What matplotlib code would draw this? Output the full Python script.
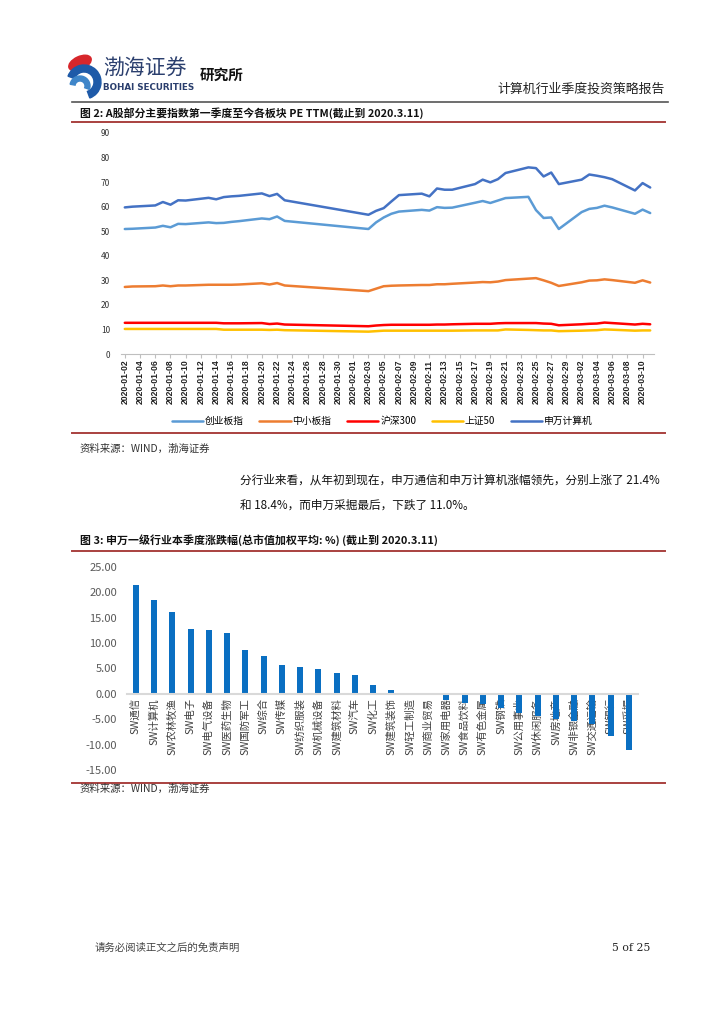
import numpy as np
import pandas as pd
import matplotlib
matplotlib.use('Agg')
import matplotlib.pyplot as plt
from matplotlib.patches import Ellipse, Wedge

plt.rcParams['font.family'] = ['Noto Sans CJK SC', 'DejaVu Sans']

# --- 图2 数据：各指数 PE TTM ---
dates = ['2020-01-02', '2020-01-03', '2020-01-06', '2020-01-07', '2020-01-08', '2020-01-09',
         '2020-01-10', '2020-01-13', '2020-01-14', '2020-01-15', '2020-01-16', '2020-01-17',
         '2020-01-20', '2020-01-21', '2020-01-22', '2020-01-23',
         '2020-02-03', '2020-02-04', '2020-02-05', '2020-02-06', '2020-02-07', '2020-02-10',
         '2020-02-11', '2020-02-12', '2020-02-13', '2020-02-14', '2020-02-17', '2020-02-18',
         '2020-02-19', '2020-02-20', '2020-02-21', '2020-02-24', '2020-02-25', '2020-02-26',
         '2020-02-27', '2020-02-28',
         '2020-03-02', '2020-03-03', '2020-03-04', '2020-03-05', '2020-03-06', '2020-03-09',
         '2020-03-10', '2020-03-11']
cyb = [50.9, 51.0, 51.5, 52.2, 51.6, 53.0, 52.9, 53.6, 53.3, 53.4, 53.8, 54.1, 55.2, 54.9, 56.0, 54.2,
       50.9, 53.6, 55.6, 57.1, 58.0, 58.7, 58.4, 59.8, 59.5, 59.6, 61.6, 62.3, 61.5, 62.5, 63.5, 64.0,
       58.6, 55.4, 55.6, 50.9,
       57.8, 59.1, 59.5, 60.4, 59.7, 57.1, 58.8, 57.4]
zxb = [27.3, 27.5, 27.6, 27.9, 27.6, 27.9, 27.9, 28.2, 28.2, 28.2, 28.2, 28.3, 28.8, 28.3, 28.9, 27.9,
       25.6, 26.6, 27.6, 27.8, 27.9, 28.1, 28.1, 28.4, 28.4, 28.6, 29.1, 29.3, 29.2, 29.5, 30.1, 30.7,
       30.9, 30.0, 29.0, 27.7,
       29.2, 29.9, 30.0, 30.4, 30.1, 29.0, 30.0, 29.1]
hs300 = [12.7, 12.7, 12.7, 12.7, 12.7, 12.7, 12.7, 12.7, 12.7, 12.5, 12.5, 12.5, 12.6, 12.2, 12.4, 12.0,
         11.3, 11.6, 11.8, 11.9, 11.9, 11.9, 11.9, 12.0, 12.0, 12.1, 12.3, 12.3, 12.3, 12.5, 12.6, 12.6,
         12.6, 12.4, 12.3, 11.7,
         12.1, 12.3, 12.4, 12.8, 12.6, 12.0, 12.3, 12.1]
sz50 = [10.2, 10.2, 10.2, 10.2, 10.2, 10.2, 10.2, 10.2, 10.2, 9.9, 9.9, 9.9, 9.9, 9.8, 9.9, 9.7,
        9.1, 9.3, 9.5, 9.5, 9.5, 9.5, 9.5, 9.5, 9.5, 9.5, 9.6, 9.6, 9.6, 9.6, 10.0, 9.8,
        9.7, 9.6, 9.6, 9.3,
        9.5, 9.6, 9.7, 10.0, 9.9, 9.5, 9.6, 9.6]
swjsj = [59.7, 60.0, 60.5, 61.9, 60.8, 62.6, 62.5, 63.6, 63.0, 63.9, 64.2, 64.4, 65.4, 64.3, 65.2, 62.6,
         56.7, 58.3, 59.4, 62.1, 64.7, 65.3, 64.2, 67.4, 66.9, 66.9, 69.2, 71.0, 69.9, 71.2, 73.7, 76.0,
         75.7, 72.3, 73.9, 69.2,
         71.0, 73.1, 72.6, 72.0, 71.2, 66.6, 69.6, 67.8]
series_names = ['创业板指', '中小板指', '沪深300', '上证50', '申万计算机']
series_colors = ['#5B9BD5', '#ED7D31', '#FF0000', '#FFC000', '#4472C4']

# --- 图3 数据：申万一级行业涨跌幅 ---
industries = ['SW通信', 'SW计算机', 'SW农林牧渔', 'SW电子', 'SW电气设备', 'SW医药生物', 'SW国防军工',
              'SW综合', 'SW传媒', 'SW纺织服装', 'SW机械设备', 'SW建筑材料', 'SW汽车', 'SW化工',
              'SW建筑装饰', 'SW轻工制造', 'SW商业贸易', 'SW家用电器', 'SW食品饮料', 'SW有色金属',
              'SW钢铁', 'SW公用事业', 'SW休闲服务', 'SW房地产', 'SW非银金融', 'SW交通运输',
              'SW银行', 'SW采掘']
changes = [21.4, 18.4, 16.2, 12.8, 12.6, 12.0, 8.7, 7.4, 5.7, 5.3, 5.0, 4.1, 3.7, 1.7,
           0.7, 0.05, -0.05, -1.3, -1.7, -1.9, -2.7, -3.7, -4.3, -4.9, -5.3, -5.9, -8.3, -11.0]

W, H = 724, 1024
fig = plt.figure(figsize=(W / 100, H / 100), dpi=100)

# 页面底层：像素坐标
pg = fig.add_axes([0, 0, 1, 1])
pg.set_xlim(0, W); pg.set_ylim(H, 0); pg.axis('off')

def fbox(x0, y0, x1, y1):
    return [x0 / W, 1 - y1 / H, (x1 - x0) / W, (y1 - y0) / H]

# logo
pg.add_patch(Ellipse((80, 63), 24, 13, angle=-25, color='#D7262B'))
pg.add_patch(Wedge((84, 82), 17, 200, 70, width=7, color='#1E5AA8'))
pg.add_patch(Wedge((80, 86), 10, 190, 20, width=5, color='#3F86C9'))
pg.text(103, 68, '渤海证券', fontsize=15, color='#2B3F6E', va='center', ha='left')
pg.text(103, 87, 'BOHAI SECURITIES', fontsize=6.3, color='#2B3F6E', fontweight='bold',
        va='center', ha='left', family='DejaVu Sans')
pg.text(200, 75, '研究所', fontsize=10.5, fontweight='bold', color='#111111', va='center')
pg.text(665, 89, '计算机行业季度投资策略报告', fontsize=9.3, color='#222222', ha='right', va='center')
pg.plot([72, 668], [102, 102], color='#555555', lw=1.2)

red = '#A9413F'
pg.text(80, 113, '图 2: A股部分主要指数第一季度至今各板块 PE TTM(截止到 2020.3.11)',
        fontsize=7.8, fontweight='bold', color='#111111', va='center')
pg.plot([72, 665], [122, 122], color=red, lw=1.4)
pg.plot([72, 665], [433, 433], color=red, lw=1.4)
pg.text(80, 449, '资料来源：WIND，渤海证券', fontsize=7.5, color='#333333', va='center',
        style='italic')

pg.text(240, 480, '分行业来看，从年初到现在，申万通信和申万计算机涨幅领先，分别上涨了 21.4%',
        fontsize=8.4, color='#111111', va='center')
pg.text(240, 505, '和 18.4%，而申万采掘最后，下跌了 11.0%。', fontsize=8.4, color='#111111',
        va='center')

pg.text(80, 540, '图 3: 申万一级行业本季度涨跌幅(总市值加权平均: %) (截止到 2020.3.11)',
        fontsize=7.9, fontweight='bold', color='#111111', va='center')
pg.plot([72, 665], [551, 551], color=red, lw=1.4)
pg.plot([72, 665], [783, 783], color=red, lw=1.4)
pg.text(80, 789, '资料来源：WIND，渤海证券', fontsize=7.5, color='#333333', va='center',
        style='italic')

pg.text(95, 948, '请务必阅读正文之后的免责声明', fontsize=7.5, color='#444444', va='center')
pg.text(612, 948, '5 of 25', fontsize=7.8, color='#222222', va='center', family='DejaVu Serif')

# --- 图2 ---
ax1 = fig.add_axes(fbox(121, 133, 654, 354))
d = pd.to_datetime(dates)
for vals, name, c in zip([cyb, zxb, hs300, sz50, swjsj], series_names, series_colors):
    ax1.plot(d, vals, color=c, lw=1.8, label=name, solid_capstyle='round')
ax1.set_ylim(0, 90)
ax1.set_yticks(range(0, 91, 10))
ax1.set_xlim(pd.Timestamp('2020-01-02') - pd.Timedelta(hours=12),
             pd.Timestamp('2020-03-11') + pd.Timedelta(hours=12))
ticks = pd.date_range('2020-01-02', '2020-03-10', freq='2D')
ax1.set_xticks(ticks)
ax1.set_xticklabels([t.strftime('%Y-%m-%d') for t in ticks], rotation=90, fontsize=6.2,
                    fontweight='bold', family='Liberation Sans', color='#222222')
ax1.tick_params(axis='y', length=0, labelsize=6, labelcolor='#333333', pad=8)
ax1.tick_params(axis='x', length=3, color='#BFBFBF', pad=1)
for s in ['top', 'right', 'left']:
    ax1.spines[s].set_visible(False)
ax1.spines['bottom'].set_color('#BFBFBF')
ax1.legend(loc='center', bbox_to_anchor=(0.49, -0.305), ncol=5, frameon=False, fontsize=7,
           handlelength=3.2, handletextpad=0.2, columnspacing=1.6)

# --- 图3 ---
ax2 = fig.add_axes(fbox(126.7, 567, 638, 770))
x = np.arange(len(industries))
ax2.bar(x, changes, width=0.33, color='#0A6FC2', zorder=2)
ax2.set_ylim(-15, 25)
ax2.set_xlim(-0.5, len(industries) - 0.5)
ax2.set_yticks(range(-15, 26, 5))
ax2.set_yticklabels([f'{v:.2f}' for v in range(-15, 26, 5)])
ax2.tick_params(axis='y', length=0, labelsize=8, labelcolor='#595959', pad=7)
ax2.spines['bottom'].set_position(('data', 0))
ax2.spines['bottom'].set_color('#D9D9D9')
ax2.spines['bottom'].set_linewidth(1.5)
for s in ['top', 'right', 'left']:
    ax2.spines[s].set_visible(False)
ax2.set_xticks(x)
ax2.set_xticklabels(industries, rotation=90, fontsize=7.5, color='#404040')
ax2.tick_params(axis='x', length=0, pad=3)
for lab in ax2.get_xticklabels():
    lab.set_zorder(5)

fig.savefig('out.png', dpi=100)
